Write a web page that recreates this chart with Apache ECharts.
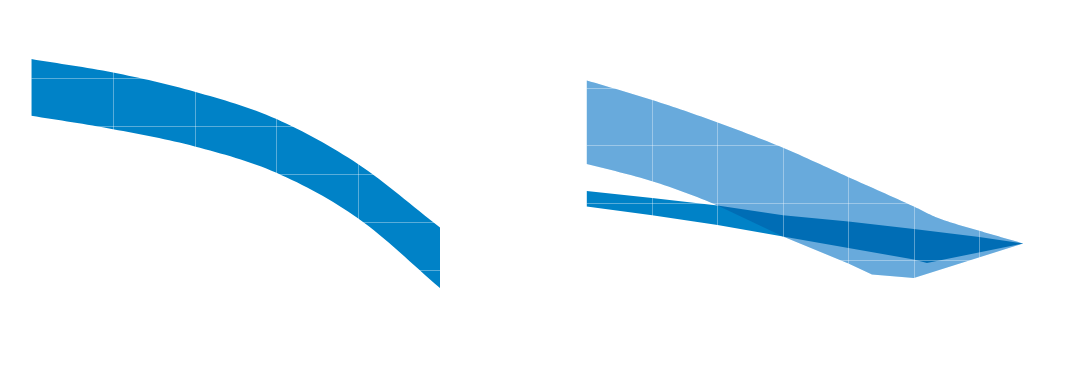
<!DOCTYPE html>
<html>
<head>
<meta charset="utf-8">
<script src="https://cdn.jsdelivr.net/npm/echarts@6/dist/echarts.min.js"></script>
<style>
html,body{margin:0;padding:0;background:#fff;}
#chart{width:1089px;height:366px;}
</style>
</head>
<body>
<div id="chart"></div>
<script>
// Left panel band
const leftX = [0, 1, 2, 3, 4, 5];
const leftUpper = [5.40, 5.12, 4.72, 4.15, 3.21, 1.89];
const leftLower = [4.22, 3.94, 3.58, 3.03, 2.08, 0.63];

// Right panel: light band
const lightUpperX = [0, 1, 2, 3, 4, 5, 5.35, 6, 6.67];
const lightUpperY = [4.13, 3.79, 3.40, 2.96, 2.45, 1.94, 1.75, 1.52, 1.30];
const lightLowerX = [0, 1, 2, 3, 4, 4.36, 5, 6.67];
const lightLowerY = [2.68, 2.38, 1.96, 1.42, 0.95, 0.76, 0.70, 1.30];

// Right panel: dark band
const darkUpperX = [0, 1, 2, 3, 4, 5, 6, 6.67];
const darkUpperY = [2.21, 2.09, 1.96, 1.79, 1.68, 1.55, 1.41, 1.30];
const darkLowerX = [0, 1, 2, 3, 4, 5, 5.2, 6.67];
const darkLowerY = [1.94, 1.79, 1.62, 1.42, 1.22, 1.02, 0.96, 1.30];

// monotone-x cubic through pixel points; smoothing applied to segments starting before index smoothN
function sampleEdge(p, smoothN) {
  const n = p.length;
  const m = [], t = [];
  for (let i = 0; i < n - 1; i++) m.push((p[i + 1][1] - p[i][1]) / (p[i + 1][0] - p[i][0]));
  for (let i = 0; i < n; i++) {
    if (i === 0) t.push(m[0]);
    else if (i === n - 1) t.push(m[n - 2]);
    else t.push(m[i - 1] * m[i] <= 0 ? 0 : (m[i - 1] + m[i]) / 2);
  }
  for (let i = 0; i < n - 1; i++) {
    if (m[i] === 0) { t[i] = 0; t[i + 1] = 0; continue; }
    const a = t[i] / m[i], b = t[i + 1] / m[i], h = a * a + b * b;
    if (h > 9) { const s = 3 / Math.sqrt(h); t[i] = s * a * m[i]; t[i + 1] = s * b * m[i]; }
  }
  const out = [p[0]];
  for (let i = 0; i < n - 1; i++) {
    if (i < smoothN - 1) {
      const x0 = p[i][0], y0 = p[i][1], x1 = p[i + 1][0], y1 = p[i + 1][1], dx = x1 - x0;
      const c1 = [x0 + dx / 3, y0 + t[i] * dx / 3], c2 = [x1 - dx / 3, y1 - t[i + 1] * dx / 3];
      const steps = 16;
      for (let k = 1; k <= steps; k++) {
        const u = k / steps, v = 1 - u;
        out.push([
          v * v * v * x0 + 3 * v * v * u * c1[0] + 3 * v * u * u * c2[0] + u * u * u * x1,
          v * v * v * y0 + 3 * v * v * u * c1[1] + 3 * v * u * u * c2[1] + u * u * u * y1
        ]);
      }
    } else {
      out.push(p[i + 1]);
    }
  }
  return out;
}

function bandRenderer(ux, uy, lx, ly, su, sl, style) {
  return function (params, api) {
    const up = ux.map((x, i) => api.coord([x, uy[i]]));
    const lo = lx.map((x, i) => api.coord([x, ly[i]]));
    const pts = sampleEdge(up, su).concat(sampleEdge(lo, sl).reverse());
    return { type: 'polygon', shape: { points: pts }, style: Object.assign({}, style) };
  };
}

const splitLine = { show: true, lineStyle: { color: 'rgba(255,255,255,0.35)', width: 1 } };
function axis(gridIndex, min, max) {
  return {
    type: 'value', gridIndex, min, max, interval: 1, z: 10,
    axisLine: { show: false }, axisTick: { show: false }, axisLabel: { show: false },
    splitLine
  };
}

const chart = echarts.init(document.getElementById('chart'), null, { renderer: 'canvas' });
chart.setOption({
  backgroundColor: '#ffffff',
  animation: false,
  grid: [
    { left: 31.3, top: 30.3, width: 408.7, height: 288 },
    { left: 586.7, top: 30.3, width: 458, height: 288 }
  ],
  xAxis: [axis(0, 0, 5), axis(1, 0, 7)],
  yAxis: [axis(0, 0, 6), axis(1, 0, 5)],
  series: [
    {
      type: 'custom', xAxisIndex: 0, yAxisIndex: 0, z: 2, silent: true,
      data: [[0, 0]],
      renderItem: bandRenderer(leftX, leftUpper, leftX, leftLower, 99, 99, { fill: '#0082C7' })
    },
    {
      type: 'custom', xAxisIndex: 1, yAxisIndex: 1, z: 2, silent: true,
      data: [[0, 0]],
      renderItem: bandRenderer(lightUpperX, lightUpperY, lightLowerX, lightLowerY, 99, 3, { fill: 'rgb(149,217,255)' })
    },
    {
      type: 'custom', xAxisIndex: 1, yAxisIndex: 1, z: 3, silent: true,
      data: [[0, 0]],
      renderItem: bandRenderer(darkUpperX, darkUpperY, darkLowerX, darkLowerY, 0, 0, { fill: '#0082C7' })
    },
    {
      type: 'custom', xAxisIndex: 1, yAxisIndex: 1, z: 4, silent: true,
      data: [[0, 0]],
      renderItem: bandRenderer(lightUpperX, lightUpperY, lightLowerX, lightLowerY, 99, 3, { fill: 'rgba(0,63,140,0.3)' })
    }
  ]
});
</script>
</body>
</html>
